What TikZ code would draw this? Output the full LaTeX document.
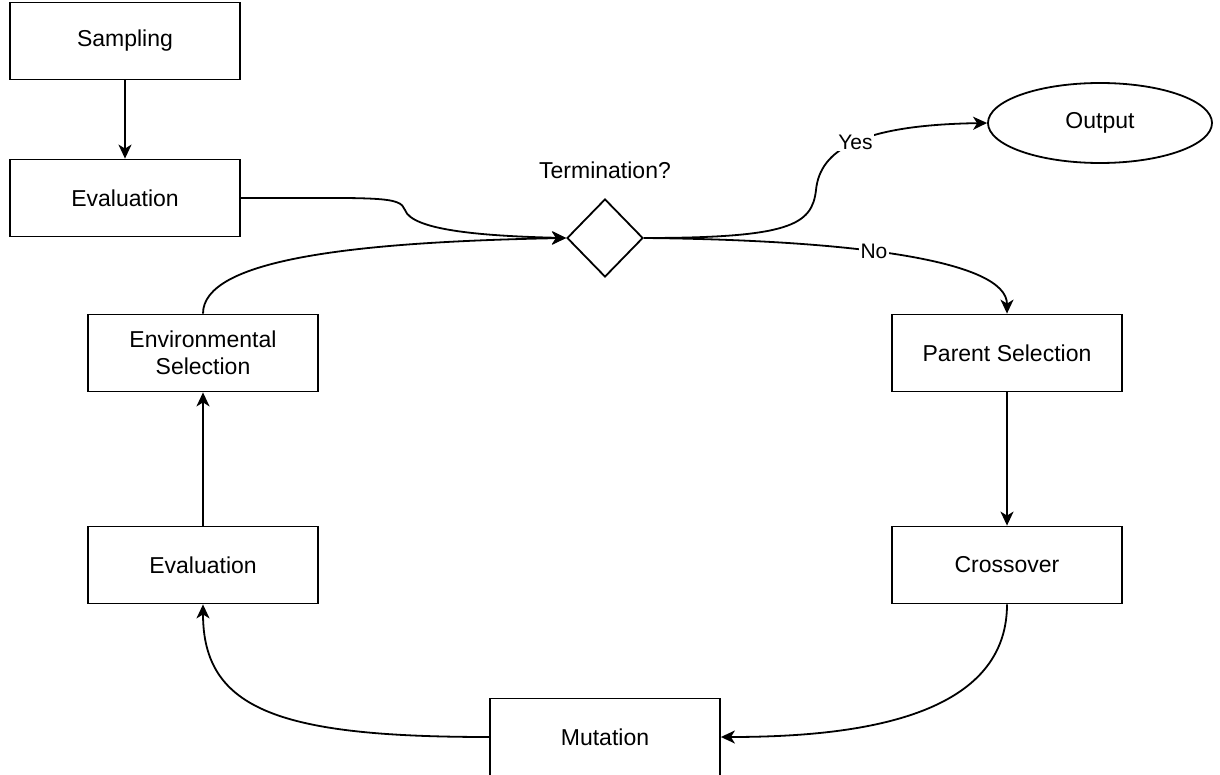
\documentclass[tikz,border=0pt]{standalone}
\usepackage{fontspec}
\setmainfont{Liberation Sans}
\usetikzlibrary{shapes.geometric,arrows.meta}

\tikzset{
  box/.style={draw, line width=0.9pt, rectangle, minimum width=115pt, minimum height=38.5pt,
    inner sep=0pt, align=center, font=\fontsize{11.5}{13.5}\selectfont},
  decision/.style={draw, line width=0.9pt, diamond, minimum width=38pt, minimum height=39pt, inner sep=0pt},
  terminal/.style={draw, line width=0.9pt, ellipse, minimum width=112pt, minimum height=40pt,
    inner sep=0pt, font=\fontsize{11.5}{13.5}\selectfont},
  plain/.style={inner sep=0pt, font=\fontsize{11.5}{13.5}\selectfont},
  flow/.style={line width=0.9pt, -{Stealth[length=7pt,width=6.5pt,inset=2pt]}},
  edgelabel/.style={fill=white, inner sep=0.8pt, font=\fontsize{10.5}{12}\selectfont}
}

\begin{document}
\begin{tikzpicture}[x=0.5pt,y=-0.5pt]
  \useasboundingbox (0,0) rectangle (1220,775);

  % process steps
  \node[box] (samp)  at (125,41)   {Sampling};
  \node[box] (eval1) at (125,198)  {Evaluation};
  \node[decision] (term) at (605,238) {};
  \node[plain] (termlab) at (605,170) {Termination?};
  \node[terminal] (out) at (1100,123) {Output};
  \node[box] (par)   at (1007,353) {Parent Selection};
  \node[box] (cross) at (1007,565) {Crossover};
  \node[box] (mut)   at (605,737)  {Mutation};
  \node[box] (eval2) at (203,565)  {Evaluation};
  \node[box] (env)   at (203,353)  {Environmental\\Selection};

  % initial population
  \draw[flow] (samp.south) -- (eval1.north);
  \draw[flow] (eval1.east) .. controls (380,198) and (400,196) .. (405,210)
                           .. controls (412,230) and (480,236) .. (term.west);

  % termination test
  \draw[flow] (term.east) .. controls (790,238) and (812,225) .. (816,190)
                          .. controls (820,150) and (860,125) .. (out.west)
        node[edgelabel, pos=0.5] {Yes};
  \draw[flow] (term.east) .. controls (850,240) and (1007,260) .. (par.north)
        node[edgelabel, pos=0.43] {No};

  % generation loop
  \draw[flow] (par.south) -- (cross.north);
  \draw[flow] (cross.south) .. controls (1007,720) and (850,737) .. (mut.east);
  \draw[flow] (mut.west) .. controls (280,737) and (203,710) .. (eval2.south);
  \draw[flow] (eval2.north) -- (env.south);
  \draw[flow] (env.north) .. controls (203,260) and (350,242) .. (term.west);
\end{tikzpicture}
\end{document}
